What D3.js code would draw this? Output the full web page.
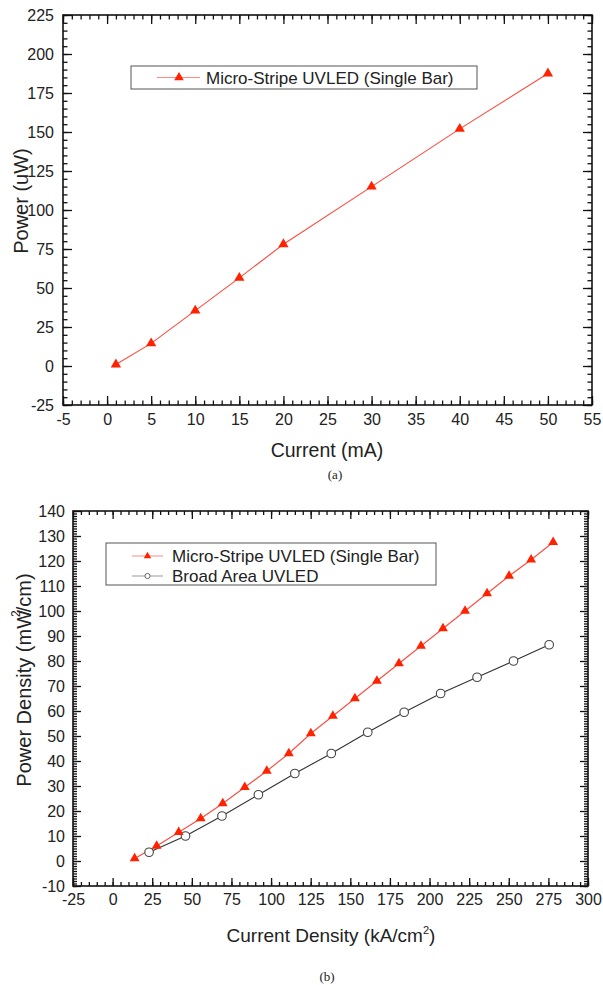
<!DOCTYPE html>
<html>
<head>
<meta charset="utf-8">
<script src="https://cdn.jsdelivr.net/npm/d3@7"></script>
<style>
  body { margin: 0; background: #fff; }
  text { font-family: "Liberation Sans", Arial, sans-serif; fill: #222; }
</style>
</head>
<body>
<div id="chart"></div>
<script>
// panel (a): power vs current
const currentMA = [1, 5, 10, 15, 20, 30, 40, 50];
const powerUW = [1, 14.5, 35.5, 56.5, 78, 115, 152, 187.5];

// panel (b): power density vs current density
const microDensity = [13.9, 27.8, 41.7, 55.6, 69.5, 83.4, 97.3, 111.2, 125.1, 139, 152.9, 166.8, 180.7, 194.6, 208.5, 222.4, 236.3, 250.2, 264.1, 278];
const microPower = [1, 6, 11.5, 17, 23, 29.5, 36, 43, 51, 58, 65, 72, 79, 86, 93, 100, 107, 114, 120.5, 127.5];
const broadDensity = [23, 46, 69, 92, 115, 138, 161, 184, 207, 230, 253, 275.5];
const broadPower = [3.5, 10, 18, 26.5, 35, 43, 51.5, 59.5, 67, 73.5, 80, 86.5];

const xTicksA = [-5, 0, 5, 10, 15, 20, 25, 30, 35, 40, 45, 50, 55];
const yTicksA = [-25, 0, 25, 50, 75, 100, 125, 150, 175, 200, 225];
const xTicksB = [-25, 0, 25, 50, 75, 100, 125, 150, 175, 200, 225, 250, 275, 300];
const yTicksB = [-10, 0, 10, 20, 30, 40, 50, 60, 70, 80, 90, 100, 110, 120, 130, 140];

const width = 603;
const height = 985;
const red = "#ff2200";
const redLine = "#ff4a3d";

const svg = d3
  .select("#chart")
  .append("svg")
  .attr("width", width)
  .attr("height", height)
  .attr("viewBox", [0, 0, width, height]);

svg.append("rect").attr("width", width).attr("height", height).attr("fill", "#fff");

const tri = d3.symbol().type(d3.symbolTriangle);

function panel(p) {
  const x = d3.scaleLinear().domain(d3.extent(p.xTicks)).range([p.left, p.right]);
  const y = d3.scaleLinear().domain(d3.extent(p.yTicks)).range([p.bottom, p.top]);
  const xMinor = d3.range(x.domain()[0], x.domain()[1] + 0.001, p.xMinor);
  const yMinor = d3.range(y.domain()[0], y.domain()[1] + 0.001, p.yMinor);

  const sides = [
    [d3.axisBottom(x), p.xTicks, xMinor, `translate(0,${p.bottom})`, true],
    [d3.axisTop(x), p.xTicks, xMinor, `translate(0,${p.top})`, false],
    [d3.axisLeft(y), p.yTicks, yMinor, `translate(${p.left},0)`, true],
    [d3.axisRight(y), p.yTicks, yMinor, `translate(${p.right},0)`, false]
  ];

  sides.forEach(([axis, major, minor, tr, labels]) => {
    svg.append("g")
      .attr("transform", tr)
      .call(axis.tickValues(minor).tickSize(-p.minorLen).tickSizeOuter(0).tickFormat(""))
      .call(g => g.select(".domain").remove())
      .call(g => g.selectAll("line").attr("stroke", "#111").attr("stroke-width", 1.3));
    svg.append("g")
      .attr("transform", tr)
      .call(axis.tickValues(major).tickSize(-p.majorLen).tickSizeOuter(0)
        .tickPadding(p.pad).tickFormat(labels ? d => String(d) : ""))
      .call(g => g.select(".domain").remove())
      .call(g => g.selectAll("line").attr("stroke", "#111").attr("stroke-width", 1.3))
      .call(g => g.selectAll("text")
        .attr("font-size", "16px")
        .attr("fill", "#222")
        .style("font-family", "'Liberation Sans', Arial, sans-serif"));
  });

  svg.append("rect")
    .attr("x", p.left)
    .attr("y", p.top)
    .attr("width", p.right - p.left)
    .attr("height", p.bottom - p.top)
    .attr("fill", "none")
    .attr("stroke", "#111")
    .attr("stroke-width", 1.6);

  return { x, y };
}

// ---------- panel (a) ----------
const a = panel({
  left: 63, right: 592, top: 15, bottom: 405,
  xTicks: xTicksA, yTicks: yTicksA, xMinor: 1, yMinor: 5,
  majorLen: 9, minorLen: 4.5, pad: 9
});

const lineA = d3.line().x(d => a.x(d[0])).y(d => a.y(d[1]));
const ptsA = currentMA.map((c, i) => [c, powerUW[i]]);

svg.append("path")
  .datum(ptsA)
  .attr("d", lineA)
  .attr("fill", "none")
  .attr("stroke", redLine)
  .attr("stroke-width", 1.1);

svg.selectAll(".tri-a")
  .data(ptsA)
  .join("path")
  .attr("class", "tri-a")
  .attr("transform", d => `translate(${a.x(d[0])},${a.y(d[1])})`)
  .attr("d", tri.size(46))
  .attr("fill", red);

// legend (a)
svg.append("rect")
  .attr("x", 131).attr("y", 66).attr("width", 346).attr("height", 23)
  .attr("fill", "#fff").attr("stroke", "#555").attr("stroke-width", 1);
svg.append("line")
  .attr("x1", 157).attr("x2", 200).attr("y1", 77.5).attr("y2", 77.5)
  .attr("stroke", "#ff8a80").attr("stroke-width", 1);
svg.append("path")
  .attr("transform", "translate(179,77.5)")
  .attr("d", tri.size(40))
  .attr("fill", red);
svg.append("text")
  .attr("x", 206).attr("y", 83.5)
  .attr("font-size", "17px")
  .text("Micro-Stripe UVLED (Single Bar)");

// titles (a)
svg.append("text")
  .attr("transform", "translate(28,201) rotate(-90)")
  .attr("text-anchor", "middle")
  .attr("font-size", "20px")
  .text("Power (uW)");
svg.append("text")
  .attr("x", 327).attr("y", 457)
  .attr("text-anchor", "middle")
  .attr("font-size", "19.5px")
  .text("Current (mA)");
svg.append("text")
  .attr("x", 335).attr("y", 479)
  .attr("text-anchor", "middle")
  .attr("font-size", "13px")
  .style("font-family", "'Liberation Serif', 'Times New Roman', serif")
  .text("(a)");

// ---------- panel (b) ----------
const b = panel({
  left: 73, right: 588, top: 511, bottom: 886,
  xTicks: xTicksB, yTicks: yTicksB, xMinor: 5, yMinor: 1,
  majorLen: 8, minorLen: 4, pad: 8
});

const lineB = d3.line().x(d => b.x(d[0])).y(d => b.y(d[1]));
const ptsMicro = microDensity.map((c, i) => [c, microPower[i]]);
const ptsBroad = broadDensity.map((c, i) => [c, broadPower[i]]);

svg.append("path")
  .datum(ptsBroad)
  .attr("d", lineB)
  .attr("fill", "none")
  .attr("stroke", "#333")
  .attr("stroke-width", 1.1);

svg.append("path")
  .datum(ptsMicro)
  .attr("d", lineB)
  .attr("fill", "none")
  .attr("stroke", redLine)
  .attr("stroke-width", 1.1);

svg.selectAll(".circ-b")
  .data(ptsBroad)
  .join("circle")
  .attr("class", "circ-b")
  .attr("cx", d => b.x(d[0]))
  .attr("cy", d => b.y(d[1]))
  .attr("r", 4.3)
  .attr("fill", "#fff")
  .attr("stroke", "#444")
  .attr("stroke-width", 1.1);

svg.selectAll(".tri-b")
  .data(ptsMicro)
  .join("path")
  .attr("class", "tri-b")
  .attr("transform", d => `translate(${b.x(d[0])},${b.y(d[1])})`)
  .attr("d", tri.size(42))
  .attr("fill", red);

// legend (b)
svg.append("rect")
  .attr("x", 106).attr("y", 543).attr("width", 330).attr("height", 42)
  .attr("fill", "#fff").attr("stroke", "#555").attr("stroke-width", 1);
svg.append("line")
  .attr("x1", 132).attr("x2", 163).attr("y1", 556).attr("y2", 556)
  .attr("stroke", "#ff8a80").attr("stroke-width", 1);
svg.append("path")
  .attr("transform", "translate(147.5,556)")
  .attr("d", tri.size(24))
  .attr("fill", red);
svg.append("text")
  .attr("x", 172).attr("y", 561.5)
  .attr("font-size", "17px")
  .text("Micro-Stripe UVLED (Single Bar)");
svg.append("line")
  .attr("x1", 132).attr("x2", 163).attr("y1", 576).attr("y2", 576)
  .attr("stroke", "#999").attr("stroke-width", 1);
svg.append("circle")
  .attr("cx", 147.5).attr("cy", 576).attr("r", 2.6)
  .attr("fill", "#fff").attr("stroke", "#666").attr("stroke-width", 1);
svg.append("text")
  .attr("x", 172).attr("y", 581.5)
  .attr("font-size", "17px")
  .text("Broad Area UVLED");

// titles (b)
const yt = svg.append("text")
  .attr("transform", "translate(31,680) rotate(-90)")
  .attr("text-anchor", "middle")
  .attr("font-size", "20px");
yt.append("tspan").text("Power Density (mW");
yt.append("tspan").attr("dx", -7).attr("dy", -11).attr("font-size", "12px").text("2");
yt.append("tspan").attr("dx", -2).attr("dy", 11).text("/cm)");

const xt = svg.append("text")
  .attr("x", 331).attr("y", 942)
  .attr("text-anchor", "middle")
  .attr("font-size", "19px");
xt.append("tspan").text("Current Density (kA/cm");
xt.append("tspan").attr("dy", -8).attr("font-size", "11px").text("2");
xt.append("tspan").attr("dy", 8).text(")");

svg.append("text")
  .attr("x", 327).attr("y", 981)
  .attr("text-anchor", "middle")
  .attr("font-size", "13px")
  .style("font-family", "'Liberation Serif', 'Times New Roman', serif")
  .text("(b)");
</script>
</body>
</html>
